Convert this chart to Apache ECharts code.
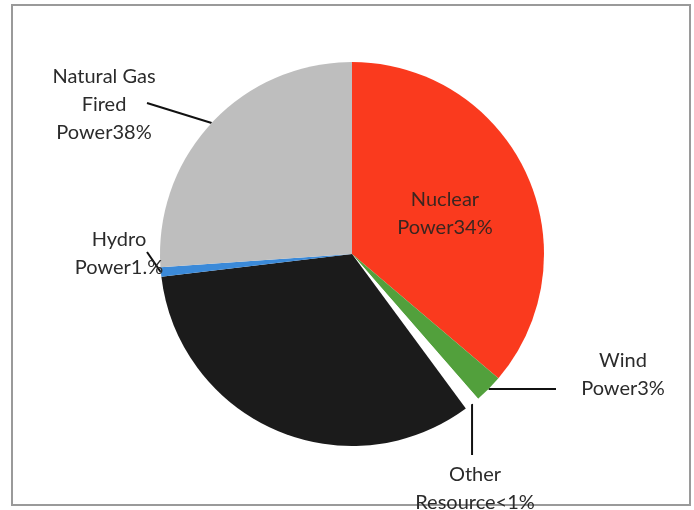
<!DOCTYPE html>
<html>
<head>
<meta charset="utf-8">
<script src="https://cdn.jsdelivr.net/npm/echarts@6/dist/echarts.min.js"></script>
<style>
html,body{margin:0;padding:0;background:#fff;}
#c{width:694px;height:510px;}
</style>
</head>
<body>
<div id="c"></div>
<script>
const categories = ['Nuclear Power', 'Wind Power', 'Other Resource', 'Coal Fired Power', 'Hydro Power', 'Natural Gas Fired Power'];
const values = [36.2, 2.4, 1.3, 33.2, 0.8, 26.1];
const labelTexts = ['Nuclear\nPower34%', 'Wind\nPower3%', 'Other\nResource<1%', '', 'Hydro\nPower1.%', 'Natural Gas\nFired\nPower38%'];
const colors = ['#FA3A1E', '#52A03C', '#FFFFFF', '#1B1B1B', '#3B8AD9', '#BEBEBE'];

// label placement (text centre) and label-line end, per slice
const labelPos = [[445, 214], [623, 375], [475, 489], null, [119, 254], [104, 105]];
const lineEnd = [null, [556, null], [null, 455], null, [147, 252], [147, 103]];

const chart = echarts.init(document.getElementById('c'), null, {renderer: 'canvas'});

const data = categories.map((n, i) => ({
  name: n,
  value: values[i],
  itemStyle: {color: colors[i]},
  label: {
    show: labelTexts[i] !== '',
    position: i === 0 ? 'inside' : 'outside',
    formatter: labelTexts[i],
    color: i === 0 ? '#3b2620' : '#2b2b2b'
  },
  labelLine: {show: i !== 0 && labelTexts[i] !== ''}
}));

chart.setOption({
  backgroundColor: '#ffffff',
  animation: false,
  graphic: [{
    type: 'rect',
    shape: {x: 12, y: 5, width: 678, height: 500},
    style: {fill: 'none', stroke: '#9a9a9a', lineWidth: 2},
    z: -1
  }],
  series: [{
    type: 'pie',
    center: [352, 254],
    radius: 192,
    startAngle: 90,
    clockwise: true,
    avoidLabelOverlap: false,
    itemStyle: {borderWidth: 0},
    label: {
      fontFamily: 'Lato',
      fontSize: 20,
      lineHeight: 28,
      align: 'center'
    },
    labelLine: {
      lineStyle: {color: '#111', width: 2},
      length: 10,
      length2: 10
    },
    labelLayout: function (params) {
      const i = params.dataIndex;
      const lp = labelPos[i];
      if (!lp) return {};
      const out = {x: lp[0], y: lp[1], align: 'center', verticalAlign: 'middle'};
      const le = lineEnd[i];
      if (le && params.labelLinePoints) {
        const p0 = params.labelLinePoints[0];
        const end = [le[0] === null ? p0[0] : le[0], le[1] === null ? p0[1] : le[1]];
        out.labelLinePoints = [p0, end, end];
      }
      return out;
    },
    data: data
  }]
});
</script>
</body>
</html>
